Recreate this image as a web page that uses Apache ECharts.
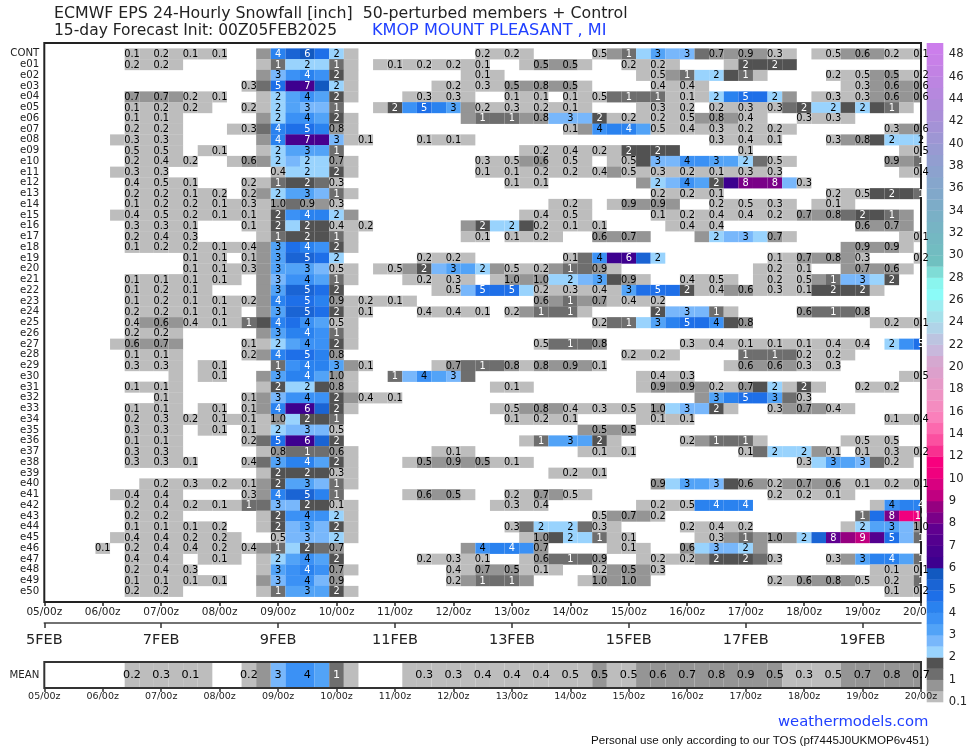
<!DOCTYPE html>
<html><head><meta charset="utf-8">
<style>html,body{margin:0;padding:0;background:#fff}#c{width:974px;height:750px}</style>
<script src="https://cdn.jsdelivr.net/npm/echarts@6/dist/echarts.min.js"></script>
</head><body><div id="c"></div>
<script>
// Each row: runs of [first 6-hourly column, value, value, ...]; column 0 = 05/00z
const CONT=[[6,.1,.1,.2,.2,.1,.1,.1],[15,.7,4.1,5.3,5.7,4.8,2.2,.3],[30,.2,.2,.2,.1],[38,.48,.8,1.2,2.2,3.2,2.8,2.7,1.2,.7,.8,.9,.7,.3,.2],[53,.2,.48,.6,.6,.6,.2,.2,.1]];
const e01=[[6,.2,.2,.2,.2],[15,.2,1.2,2.2,2.2,2.2,1.2,.2],[23,.2,.1,.2,.2,.2,.2,.2,.1],[33,.2,.5,.7,.5,.2],[40,.2,.2,.2,.2],[47,.2,1.7,1.7,1.7,1.7]];
const e02=[[15,.7,2.7,3.7,4.1,3.5,1.7,.2],[29,.2,.1,.2],[41,.2,.48,.7,1.2,2.2,2.2,1.7,1.2,.2],[54,.2,.2,.48,.7,.5,.2,.2]];
const e03=[[14,.3,1.2,4.8,6.2,6.6,5.7,2.2,.2],[27,.2,.2,.2,.3,.2,.5,.7,.8,.7,.5,.2],[42,.4,.2,.4,.2],[55,.2,.3,.7,.6,.7,.6]];
const e04=[[6,.7,.7,.7,.7,.2,.2,.1],[15,.2,2.2,3.2,3.8,3.2,1.7,.2],[25,.2,.3,.2,.3,.2],[32,.1,.1,.1],[36,.1,.2,.48,1.2,1.2,1.2,1.2,.2,.1,.2,2.2,4.2,4.8,4.5,2.2,.7],[53,.2,.3,.2,.3,.7,.6,.7,.6]];
const e05=[[6,.1,.2,.2,.2,.2,.2],[14,.2,.2,2.3,3.2,2.8,2.7,1.2],[23,.2,1.7,3.7,4.7,4.3,3.3,.7,.2,.2,.3,.2,.2,.2,.1,.2],[41,.2,.3,.2,.2],[46,.2,.2,.3,.2,.3,1.2,1.7,2.2,2.2,1.7,2.2,1.7,1.2,.2]];
const e06=[[6,.1,.1,.1,.1],[15,.7,2.3,3.5,3.7,3.2,1.7,.2],[29,.7,1.2,1.2,1.2,.7,.8,2.7,2.7,2.7,1.7,.2,.2,.2,.2,.2,.48,.7,.8,.7,.4,.2],[52,.3,.2,.3,.2]];
const e07=[[6,.2,.2,.2,.2],[13,.2,.3,1.2,4.1,4.7,4.9,4.2,.8,.2],[36,.1,.7,3.6,4.3,4.2,3.2,.48,.2,.4,.2,.3,.2,.2,.2,.2,.2],[58,.3,.7,.6]];
const e08=[[5,.2,.3,.2,.3,.2],[15,.7,4.1,6.6,6.6,6.6,2.7,.2,.1],[26,.1,.2,.1,.2],[46,.3,.2,.4,.2,.1],[54,.3,.7,.8,1.7,2.2,2.2,2.2]];
const e09=[[6,.48,.2,.48,.2],[11,.2,.1],[15,.2,2.3,3.2,3.2,3.2,1.2],[33,.2,.2,.2,.4,.2,.2,.2,1.7,1.7,1.7,1.7],[48,.1],[59,.2,.48]];
const e10=[[6,.2,.2,.4,.2,.2],[13,.2,.6,.7,2.2,2.7,2.2,2.2,.7,.2],[30,.3,.2,.48,.7,.6,.2,.48,.2],[39,.2,.48,1.7,2.7,2.7,3.7,3.6,3.4,3.2,2.2,1.2,.48,.2],[58,.9,.7,1.2]];
const e11=[[5,.2,.3,.2,.3],[16,.4,2.2,2.2,2.2,1.7,.2],[30,.1,.2,.1,.2,.2,.2,.2,.2,.4,.7,.48,.2,.3,.2,.2,.2,.1,.2,.3,.2,.3],[59,.2,.4]];
const e12=[[6,.4,.2,.48,.2,.1],[14,.2,.2,1.2,1.7,1.7,1.2,.3],[32,.1,.2,.1],[41,.7,2.2,2.7,3.7,3.2,1.7,6.2,8.2,8.2,8.2,2.7,.3]];
const e13=[[6,.2,.2,.2,.2,.1,.2,.2],[14,.2,.7,2.3,3.2,3.4,2.7,1.2,.2],[42,.2,.2,.2,.2,.1],[54,.2,.2,.48,1.7,1.7,1.7,1.2]];
const e14=[[6,.1,.2,.2,.2,.2,.2,.1,.2,.3,.2,.99,1.2,.9,.7,.3],[35,.2,.2,.2],[39,.2,.9,.7,.9,.7],[46,.2,.2,.48,.2,.3,.2],[53,.2,.1,.2]];
const e15=[[5,.2,.4,.2,.48,.2,.2,.2,.1,.2,.1,.2,1.7,3.7,4.2,4.2,2.2,.7],[33,.2,.4,.2,.48,.2],[42,.1,.2,.2,.2,.4,.2,.4,.2,.2,.2,.7,.7,.8,1.2,1.7,1.7,1.2,.7]];
const e16=[[6,.3,.2,.3,.2,.1],[14,.1,.2,1.7,2.2,1.7,1.7,.4,.2,.2],[29,.7,1.7,2.2,2.2,1.7,.2,.2,.1,.2,.1],[43,.2,.4,.2,.4],[56,.6,.7,.7,.7]];
const e17=[[6,.2,.2,.4,.2,.3],[15,.2,1.2,1.7,1.7,1.7,1.2,.2],[29,.2,.1],[32,.1,.2,.2,.2],[38,.6,.7,.7,.7],[45,.7,2.2,2.7,2.8,2.2,.7,.2],[59,.2,.1]];
const e18=[[6,.1,.2,.2,.2,.2,.2,.1,.2,.4,.7,3.4,4.7,4.2,3.7,1.7,.2],[55,.7,.9,.7,.9,.2]];
const e19=[[10,.1,.2,.1],[14,.1,.7,3.4,5.2,5.2,4.8,2.2],[26,.2,.2,.2,.2],[36,.1,1.2,3.6,6.2,6.1,5.3,2.2],[50,.1,.2,.7,.7,.8,.7,.3],[60,.2]];
const e20=[[10,.1,.2,.1,.2,.3,.7,3.4,3.2,3.2,2.7,.48,.2],[23,.2,.48,.7,1.7,2.7,3.2,3.2,2.2,.7,.48,.2,.2,.7,1.2,1.2,.9,.2],[49,.2,.2,.2,.1],[55,.7,.7,.7,.6,.2]];
const e21=[[6,.1,.2,.1,.2,.1,.2,.1,.2],[15,.7,2.7,3.6,3.7,3.3,1.2,.2],[25,.2,.2,.2,.3,.2],[31,.2,.99,.7,.99,2.2,2.2,2.7,3.4,1.7,.9,.2],[44,.4,.2,.48,.2],[49,.2,.2,.2,.48,.7,1.2,2.7,2.7,2.2,1.7]];
const e22=[[6,.1,.2,.2,.2,.1,.2],[15,.7,3.4,5.3,5.3,4.7,1.7],[27,.2,.48,2.7,4.8,4.8,4.8,2.2,.2,.2,.3,.2,.4,.2,3.4,4.7,4.7,4.7,1.7,.2,.4,.7,.6,.2,.3,.2,.1,1.7,1.7,1.7,1.7,.2]];
const e23=[[6,.1,.2,.2,.2,.1,.2,.1,.2,.2,.7,4.2,4.7,4.8,4.3,.9,.2,.2,.2,.1,.2],[34,.6,.7,1.2,.7,.7,.2,.4,.2,.2]];
const e24=[[6,.2,.2,.2,.2,.1,.2,.1,.2],[15,.7,3.4,5.3,5.2,4.5,1.7,.2,.1],[26,.4,.2,.4,.2,.1],[32,.2,.7,1.2,1.2,1.2,.2],[42,1.7,2.7,2.7,2.7,1.2,.2],[52,.6,1.2,1.2,1.2,.8]];
const e25=[[6,.4,.7,.6,.7,.4,.2,.1,.2,1.2,1.7,4.2,4.8,3.7,3.2,.48,.2],[38,.2,1.2,1.2,2.2,3.4,4.2,4.6,4.7,3.7,1.7,.8],[57,.2,.2,.2,.1]];
const e26=[[6,.2,.2,.2,.2],[15,.7,3.4,4.2,4.2,3.7,1.2,.2]];
const e27=[[5,.2,.6,.7,.7,.7],[14,.1,.2,2.2,3.4,3.7,3.6,1.7,.2],[34,.48,1.2,1.2,1.2,.8],[44,.3,.2,.4,.2,.1,.2,.1,.2,.1,.2,.4,.2,.4],[58,2.2,3.7,4.7]];
const e28=[[6,.1,.2,.1,.2],[14,.2,.7,4.2,4.7,4.7,4.3,.8],[40,.2,.2,.2,.2],[48,1.2,1.2,1.2,1.2,.2,.2,.2,.2]];
const e29=[[6,.3,.2,.3,.2],[11,.2,.1],[16,1.2,3.6,4.1,4.2,3.3,.7,.1],[27,.2,.7,1.2,1.2,1.2,.8,.2,.8,.7,.9,.7,.1],[47,.2,.6,.7,.6,.7,.3,.2,.3]];
const e30=[[9,.2],[11,.2,.1],[15,.7,3.4,4.2,4.1,3.3,.99,.2],[24,1.2,2.7,3.7,3.2,2.8,1.2],[41,.2,.4,.2,.3],[59,.2,.48]];
const e31=[[6,.1,.2,.1,.2],[15,.2,1.7,2.2,2.2,1.7,.8,.2],[31,.2,.1,.2],[41,.2,.9,.7,.9,.7,.2,.2,.7,1.7,2.2,.2,1.7,.2],[56,.2,.2,.2]];
const e32=[[8,.1,.2],[14,.1,.7,2.7,3.7,3.7,3.7,1.7,.7,.4,.2,.1],[45,.7,3.4,4.2,4.8,4.5,3.4,1.2,.3]];
const e33=[[6,.1,.2,.1,.2],[11,.2,.1],[14,.1,.7,4.2,6.2,6.1,5.3,1.7,.2],[31,.2,.48,.7,.8,.7,.4,.2,.3,.2,.48,.2,.99,2.2,2.7,2.7,1.7,.2],[50,.3,.7,.7,.7,.4,.2]];
const e34=[[6,.2,.2,.3,.2,.2,.2,.1,.2,.1,.2,.99,2.2,1.7,1.7,1.2],[32,.1,.2,.2,.2,.1],[41,.2,.1,.2,.1],[58,.1,.2,.4]];
const e35=[[6,.3,.2,.3,.2],[11,.2,.1],[14,.1,.2,2.2,2.7,2.8,2.7,.48],[37,.7,.5,.7,.5]];
const e36=[[6,.1,.2,.1,.2],[14,.2,1.2,4.9,6.2,6.1,5.3,1.7],[33,.2,1.2,3.2,3.2,3.2,1.7,.2],[44,.2,.7,1.2,1.2,1.2,.2],[55,.2,.48,.2,.48]];
const e37=[[6,.3,.2,.3,.2],[15,.2,.8,1.2,1.2,1.2,.6,.2],[27,.2,.1,.2],[37,.2,.1,.2,.1],[48,.1,1.2,2.2,2.2,2.2,.7,.1],[56,.1,.2,.3,.2,.2]];
const e38=[[6,.3,.2,.3,.2,.1],[14,.4,1.2,3.4,4.2,4.2,3.2,1.7,.2],[25,.2,.5,.7,.9,.7,.5,.2,.1,.2],[52,.3,2.2,3.4,3.2,2.7,1.2,.2,.2]];
const e39=[[15,.2,1.7,1.7,1.7,1.7,.3,.2],[35,.2,.2,.2,.1]];
const e40=[[7,.2,.2,.2,.3,.2,.2,.2,.1,.7,1.7,3.2,3.3,2.7,1.2,.2],[42,.9,2.2,3.2,3.2,2.7,1.7,.6,.7,.2,.7,.7,.7,.6,.2,.1,.2,.2,.2,.1]];
const e41=[[5,.2,.4,.2,.4,.2],[14,.3,.7,4.2,5.3,5.2,4.3,1.2],[25,.2,.6,.7,.5,.2],[32,.2,.2,.7,.7,.48,.2],[50,.2,.2,.2,.2,.1,.2]];
const e42=[[6,.2,.2,.4,.2,.2,.2,.1,.2,1.2,1.2,2.7,2.7,1.7,1.7,.1,.2],[31,.2,.3,.2,.4],[41,.2,.2,.2,.48,4.2,4.2,4.2,4.2],[57,.2,3.7,4.2,4.2]];
const e43=[[6,.2,.2,.2,.2],[15,.2,1.7,3.7,3.7,3.7,2.2,.2],[38,.48,.7,.7,.7,.2],[56,1.2,4.7,8.3,10.5,10.3]];
const e44=[[6,.1,.2,.1,.2,.1,.2,.2],[15,.2,1.7,2.7,3.2,2.7,1.7,.2],[32,.3,1.2,2.2,2.2,2.2,1.2,.3,.2],[44,.2,.2,.4,.2,.2],[55,.2,2.2,3.2,3.3,2.7,.99]];
const e45=[[5,.2,.4,.2,.4,.2,.2,.2,.2,.2],[16,.48,2.7,2.7,2.7,2.2,.2],[33,.2,.99,1.7,2.2,2.2,1.2,.2,.1],[45,.2,.3,.7,1.2,.7,.99,.7,2.2,5.3,7.7,8.7,9.49,7,4.6,2.7,1.2]];
const e46=[[4,.1],[6,.2,.2,.4,.2,.4,.2,.2,.2,.4,.7,1.2,2.2,1.7,1.2,.7],[29,.7,3.7,4.2,4.2,3.7,.7],[39,.2,.1,.2],[44,.6,2.2,2.7,2.7,2.2,.7]];
const e47=[[6,.4,.2,.4,.2],[11,.2,.1,.2],[15,.2,2.2,3.3,3.7,3.2,1.7],[26,.2,.2,.3,.2,.1],[33,.2,.6,1.2,1.2,1.2,.9],[41,.2,.2,.2,.2,.7,1.7,1.7,1.7,1.2,.3],[54,.3,.7,3.3,4.2,4.1,3.2,1.2]];
const e48=[[6,.2,.2,.4,.2,.3],[15,.2,3.3,3.7,4.2,3.7,.7,.2],[28,.4,.2,.7,.7,.5,.2,.1,.2],[38,.2,.7,.5,.7,.3],[57,.2,.1,.2,.1]];
const e49=[[6,.1,.2,.1,.2,.1,.2,.1],[15,.7,2.7,3.7,3.7,2.7,.9],[28,.2,.7,1.2,1.2,1.2,.7],[37,.2,.99,.7,.99,.7],[50,.2,.2,.6,.7,.8,.7,.48,.2,.2,.2,1.2]];
const e50=[[6,.2,.2,.2,.2],[15,.2,1.2,3.2,3.3,3.3,1.7,.2],[58,.1,.2,.2]];
const MEAN=[[6,.2,.2,.3,.2,.1,.2],[14,.2,.7,2.7,3.7,3.7,3.2,1.2,.2],[25,.2,.3,.2,.3,.2,.4,.2,.4,.2,.4,.2,.48,.2,.5,.2,.48,.7,.6,.7,.7,.7,.8,.7,.9,.7,.5,.2,.3,.2,.48,.7,.7,.7,.8,.7,.7]];

const ROW_NAMES=['CONT','e01','e02','e03','e04','e05','e06','e07','e08','e09','e10','e11','e12','e13','e14','e15','e16','e17','e18','e19','e20','e21','e22','e23','e24','e25','e26','e27','e28','e29','e30','e31','e32','e33','e34','e35','e36','e37','e38','e39','e40','e41','e42','e43','e44','e45','e46','e47','e48','e49','e50'];
const ROWS=[CONT,e01,e02,e03,e04,e05,e06,e07,e08,e09,e10,e11,e12,e13,e14,e15,e16,e17,e18,e19,e20,e21,e22,e23,e24,e25,e26,e27,e28,e29,e30,e31,e32,e33,e34,e35,e36,e37,e38,e39,e40,e41,e42,e43,e44,e45,e46,e47,e48,e49,e50];

const LEVELS=[0.1,0.5,1,1.5,2,2.5,3,3.5,4,4.5,5,5.5,6,6.5,7,7.5,8,8.5,9,9.5,10,11,12,13,14,15,16,17,18,19,20,21,22,23,24,25,26,27,28,29,30,31,32,33,34,35,36,37,38,39,40,41,42,43,44,45,46,47,48];
const COLORS=['#bdbdbd','#959595','#6e6e6e','#525252','#99d3fd','#78b7fb','#52a3f7','#3b91f5','#2a82ef','#1e6fe8','#1a64d4','#1259c0','#3d008f','#48008f','#54008f','#600090','#7a0088','#950080','#c00080','#d80080','#f0007e','#f8007e','#f83090','#fb50a0','#fc69ae','#fa80bb','#f48cc0','#ee94c4','#e69ac8','#dca0cc','#d5a8d0','#c8b8dc','#bcc4e0','#b0d4e8','#a5e0ea','#9cecf0','#8bfbf8','#8af5ee','#7fdcd6','#70c0c0','#72bcc1','#74b8c2','#77b4c4','#7ab0c6','#7dacc8','#81a8ca','#86a6cc','#8ca2ce','#929ed0','#989ad2','#9e96d4','#a492d6','#aa8ed8','#b08bdb','#b688de','#bc85e1','#c282e4','#c880e8','#cc7eec'];
const BAR_LABELS=['0.1','1','2','3','4','5','6','7','8','9','10','12','14','16','18','20','22','24','26','28','30','32','34','36','38','40','42','44','46','48'];
const TITLE_1='ECMWF EPS 24-Hourly Snowfall [inch]  50-perturbed members + Control';
const TITLE_2='15-day Forecast Init: 00Z05FEB2025';
const STATION='KMOP MOUNT PLEASANT , MI';
const SITE='weathermodels.com';
const TOS='Personal use only according to our TOS (pf7445J0UKMOP6v451)';

const FONT='DejaVu Sans';
function colorOf(v){let k=-1;for(let i=0;i<LEVELS.length;i++){if(v>=LEVELS[i])k=i;}return k<0?null:COLORS[k];}
function labelOf(v){return v<1.05?v.toFixed(1):String(Math.round(v));}
function inkOf(v){return (v>=1.05&&v<2)||v>=4?'#fff':'#000';}
function expand(runs,row){const out=[];runs.forEach(r=>{for(let i=1;i<r.length;i++)out.push([r[0]+i-1,row,r[i]]);});return out;}

const cells=[];ROWS.forEach((r,i)=>cells.push(...expand(r,i)));
const meanCells=expand(MEAN,0);

function cellItem(p,api){
  const s=api.size([1,1]);const c=api.coord([api.value(0),api.value(1)]);
  return {type:'rect',shape:{x:c[0]-s[0]/2,y:c[1]-s[1]/2,width:s[0],height:s[1]+0.3},style:{fill:colorOf(api.value(2))}};
}
function textItem(size){return function(p,api){
  const c=api.coord([api.value(0),api.value(1)]);const v=api.value(2);
  return {type:'text',style:{x:c[0],y:c[1]+0.5,text:labelOf(v),fill:inkOf(v),align:'center',verticalAlign:'middle',font:size+'px "'+FONT+'"'}};
};}
const DATE_TICKS=[];for(let i=0;i<=56;i+=8)DATE_TICKS.push(i);
function dayLabel(v){const d=5+v/4;return (d<10?'0':'')+d+'/00z';}
function xBase(gridIndex,fs,margin,lw,col){return {type:'value',gridIndex,min:0,max:60,interval:4,splitLine:{show:false},
  axisLine:{show:false,onZero:false},axisTick:{show:true,length:4,lineStyle:{color:col,width:lw}},
  axisLabel:{fontFamily:FONT,fontSize:fs,color:'#222',margin,formatter:dayLabel,hideOverlap:false}};}
function head(text,left,top,size,color,family){return {text,left,top,padding:0,textStyle:{fontFamily:family||FONT,fontSize:size,fontWeight:'normal',color}};}

const option={animation:false,backgroundColor:'#fff',
 title:[
  head(TITLE_1,54,6,15.8,'#222'),
  head(TITLE_2,54,23,15.5,'#222'),
  head(STATION,372,23,16.1,'#2040ff'),
  head(SITE,778,715,14.8,'#2040ff'),
  head(TOS,591,735,11.6,'#111','Liberation Sans')
 ],
 grid:[
  {left:44.3,top:43,width:876.7,height:559,show:true,borderColor:'#222',borderWidth:2,backgroundColor:'transparent',z:3},
  {left:44.3,top:622,width:876.7,height:1,show:false},
  {left:44.3,top:662,width:876.7,height:26,show:true,borderColor:'#333',borderWidth:2,backgroundColor:'transparent',z:3},
  {left:926.7,top:43,width:16.6,height:659,show:false}
 ],
 xAxis:[
  xBase(0,10.5,5,1.5,'#222'),
  {type:'value',gridIndex:1,min:0,max:60,splitLine:{show:false},axisLine:{show:true,onZero:false,lineStyle:{color:'#444',width:1.6}},
   axisTick:{show:true,length:5,customValues:DATE_TICKS,lineStyle:{color:'#333',width:1.5}},
   axisLabel:{fontFamily:FONT,fontSize:14.5,color:'#222',margin:10,customValues:DATE_TICKS,formatter:v=>(5+v/4)+'FEB'}},
  Object.assign(xBase(2,9.5,4,1.5,'#333'),{z:6}),
  {type:'value',gridIndex:3,min:0,max:1,show:false}
 ],
 yAxis:[
  {type:'value',gridIndex:0,inverse:true,min:-1,max:51,interval:1,splitLine:{show:false},axisLine:{show:false},axisTick:{show:false},
   axisLabel:{fontFamily:FONT,fontSize:10.2,color:'#222',margin:5,showMinLabel:false,showMaxLabel:false,hideOverlap:false,formatter:v=>ROW_NAMES[v]||''}},
  {type:'value',gridIndex:1,show:false},
  {type:'category',gridIndex:2,data:['MEAN'],splitLine:{show:false},axisLine:{show:false},axisTick:{show:false},
   axisLabel:{fontFamily:FONT,fontSize:10.2,color:'#222',margin:5}},
  {type:'value',gridIndex:3,position:'right',min:0,max:59,interval:2,splitLine:{show:false},axisLine:{show:false},axisTick:{show:false},
   axisLabel:{fontFamily:FONT,fontSize:11.6,color:'#222',margin:5.5,showMaxLabel:false,hideOverlap:false,formatter:v=>BAR_LABELS[v/2]||''}}
 ],
 series:[
  {type:'custom',name:'members',xAxisIndex:0,yAxisIndex:0,clip:true,silent:true,z:2,encode:{x:0,y:1},data:cells,renderItem:cellItem},
  {type:'custom',name:'member labels',xAxisIndex:0,yAxisIndex:0,clip:false,silent:true,z:5,encode:{x:0,y:1},data:cells.filter(d=>d[0]%2===0),renderItem:textItem(9.8)},
  {type:'custom',name:'mean',xAxisIndex:2,yAxisIndex:2,clip:true,silent:true,z:2,encode:{x:0,y:1},data:meanCells,
   renderItem:function(p,api){const s=api.size([1,0]);const c=api.coord([api.value(0),0]);const h=26;
     return {type:'rect',shape:{x:c[0]-s[0]/2,y:c[1]-h/2,width:s[0],height:h},style:{fill:colorOf(api.value(2))}};}},
  {type:'custom',name:'mean labels',xAxisIndex:2,yAxisIndex:2,clip:false,silent:true,z:5,encode:{x:0,y:1},data:meanCells.filter(d=>d[0]%2===0),renderItem:textItem(11.2)},
  {type:'custom',name:'colorbar',xAxisIndex:3,yAxisIndex:3,silent:true,z:2,encode:{x:0,y:1},data:LEVELS.map((l,i)=>[0,i,l]),
   renderItem:function(p,api){const i=api.value(1);const a=api.coord([0,i]);const b=api.coord([1,i+1]);
     return {type:'rect',shape:{x:a[0],y:b[1],width:b[0]-a[0],height:a[1]-b[1]+0.3},style:{fill:colorOf(api.value(2))}};}}
 ]
};
echarts.init(document.getElementById('c'),null,{renderer:'canvas'}).setOption(option);
</script></body></html>
